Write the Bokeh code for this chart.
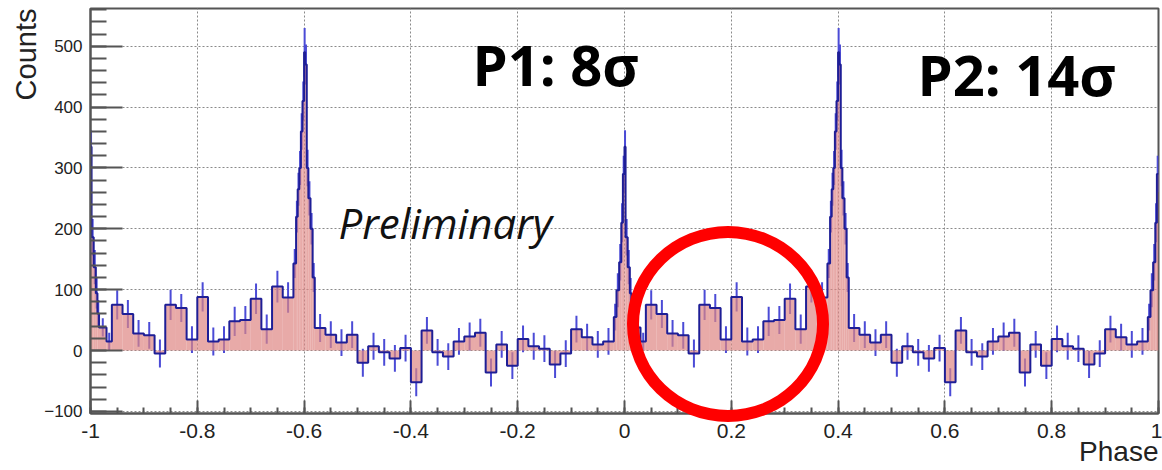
import numpy as np
from bokeh.plotting import figure
from bokeh.models import Range1d, FixedTicker, Label, Title, Div
from bokeh.layouts import column
from bokeh.embed import file_html
from bokeh.resources import INLINE

# ---- data: one rotation (phase 0..1); the chart shows it twice (-1..0, 0..1)
bin_edges = [0.000, 0.002, 0.006, 0.010, 0.013, 0.016, 0.030, 0.040,
             0.06, 0.08, 0.10, 0.12, 0.14, 0.16, 0.18, 0.20, 0.22, 0.24, 0.26,
             0.28, 0.30, 0.32, 0.34, 0.36, 0.38,
             0.385, 0.388, 0.391, 0.394, 0.397, 0.400, 0.402, 0.405, 0.408,
             0.412, 0.416, 0.420,
             0.44, 0.46, 0.48, 0.50, 0.52, 0.54, 0.56, 0.58, 0.60, 0.62, 0.64,
             0.66, 0.68, 0.70, 0.72, 0.74, 0.76, 0.78, 0.80, 0.82, 0.84, 0.86,
             0.88, 0.90, 0.92, 0.94, 0.96, 0.98,
             0.985, 0.990, 0.994, 0.997, 1.000]

counts = [335, 186, 137, 94, 61, 38, 15,
          75, 60, 28, 25, -5, 75, 70, 18, 88, 15, 18, 48, 50, 85, 35, 105, 87,
          143, 220, 265, 300, 360, 410, 490, 470, 300, 250, 200, 120,
          37, 26, 13, 26, -20, 7, -3, -13, 4, -52, 33, -3, -10, 15, 23, 29,
          -36, 10, -25, 19, 7, 3, -23, -5, 35, 22, 10, 15,
          55, 99, 145, 210, 290]

errors = [27, 30, 28, 25, 22, 15, 14,
          24, 23, 22, 22, 23, 25, 23, 22, 24, 23, 22, 24, 23, 25, 24, 26, 25,
          24, 26, 27, 28, 30, 32, 40, 33, 30, 28, 26, 24,
          23, 22, 22, 22, 23, 22, 22, 22, 22, 23, 22, 22, 22, 22, 23, 23,
          23, 22, 22, 22, 22, 22, 22, 22, 22, 22, 22, 22,
          22, 28, 30, 32, 30]

x_ticks = [-1.0, -0.8, -0.6, -0.4, -0.2, 0.0, 0.2, 0.4, 0.6, 0.8, 1.0]
x_tick_labels = ["-1", "-0.8", "-0.6", "-0.4", "-0.2", "0", "0.2", "0.4", "0.6", "0.8", "1"]
y_ticks = [-100, 0, 100, 200, 300, 400, 500]

# ---- build the two-cycle histogram
edges_full = np.array([e - 1.0 for e in bin_edges] + bin_edges[1:])
counts_full = np.array(counts + counts, dtype=float)
errors_full = np.array(errors + errors, dtype=float)
left = edges_full[:-1]
right = edges_full[1:]
centers = 0.5 * (left + right)

step_x = np.repeat(edges_full, 2)[1:-1]
step_y = np.repeat(counts_full, 2)

YMIN, YMAX = -103.5, 562

p = figure(width=1162, height=470, x_range=Range1d(-1, 1), y_range=Range1d(YMIN, YMAX),
           output_backend="svg", toolbar_location=None,
           min_border_left=90, min_border_right=4, min_border_top=8, min_border_bottom=57)
p.background_fill_color = "white"
p.border_fill_color = "white"
p.outline_line_color = "#555555"
p.outline_line_width = 2

# axes
p.xaxis.ticker = FixedTicker(ticks=x_ticks, minor_ticks=list(np.round(np.arange(-1, 1.0001, 0.05), 3)))
p.xaxis.major_label_overrides = {t: s for t, s in zip(x_ticks, x_tick_labels)}
p.yaxis.ticker = FixedTicker(ticks=y_ticks, minor_ticks=list(range(-100, 561, 20)))
for ax in (p.xaxis[0], p.yaxis[0]):
    ax.axis_line_color = "#555555"
    ax.axis_line_width = 2
    ax.major_tick_line_color = "#555555"
    ax.minor_tick_line_color = "#555555"
    ax.major_tick_line_width = 2
    ax.minor_tick_line_width = 2
    ax.major_tick_out = 0
    ax.minor_tick_out = 0
    ax.major_label_text_font = "Liberation Sans"
    ax.major_label_text_color = "#222222"
p.yaxis.major_tick_in = 32
p.yaxis.minor_tick_in = 16
p.xaxis.major_tick_in = 13
p.xaxis.minor_tick_in = 6
p.yaxis.major_label_standoff = 8
p.xaxis.major_label_standoff = 10
p.yaxis.major_label_text_font_size = "17px"
p.xaxis.major_label_text_font_size = "21px"

p.grid.grid_line_color = "#8a8a8a"
p.grid.grid_line_dash = "2 2"
p.grid.grid_line_width = 1
p.xgrid.ticker = FixedTicker(ticks=x_ticks)
p.ygrid.ticker = FixedTicker(ticks=y_ticks)

# axis titles (ROOT style: at the top / right end of the axes)
p.add_layout(Title(text="Counts", align="right", text_font="Liberation Sans",
                   text_font_size="29px", text_font_style="normal", text_color="#222222",
                   standoff=0), "left")
p.add_layout(Title(text="Phase", align="right", text_font="Liberation Sans",
                   text_font_size="28px", text_font_style="normal", text_color="#222222",
                   standoff=-13), "below")

# error bars (under the translucent fill), fill, outline
p.segment(x0=centers, y0=counts_full - errors_full, x1=centers, y1=counts_full + errors_full,
          line_color="#4b4bd6", line_width=2)
p.quad(left=left, right=right, bottom=0, top=counts_full,
       fill_color="#de8683", fill_alpha=0.7, line_color=None)
p.line(step_x, step_y, line_color="#1e1e96", line_width=2)

# annotations
p.add_layout(Label(x=-0.2846, y=471.6, text="P1: 8σ", text_font="Open Sans",
                   text_font_style="bold", text_font_size="56px", text_color="#000000",
                   text_baseline="alphabetic"))
p.add_layout(Label(x=0.5487, y=453.6, text="P2: 14σ", text_font="Open Sans",
                   text_font_style="bold", text_font_size="56px", text_color="#000000",
                   text_baseline="alphabetic"))
p.add_layout(Label(x=-0.5356, y=210.4, text="Preliminary", text_font="Open Sans",
                   text_font_style="italic", text_font_size="42px", text_color="#111111",
                   text_baseline="alphabetic"))

# red highlight circle (drawn as an overlay so it can reach past the frame, like the original)
circle = Div(text="", width=202, height=196,
             styles={"position": "absolute", "left": "627px", "top": "226px",
                     "width": "202px", "height": "196px", "box-sizing": "border-box",
                     "border": "12px solid #ff0000", "border-radius": "50%",
                     "z-index": "10", "pointer-events": "none", "margin": "0"})

root = column(p, circle, spacing=0)
open("out.html", "w").write(file_html(root, INLINE))
